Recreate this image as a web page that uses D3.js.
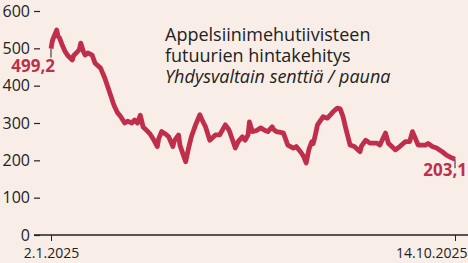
<!DOCTYPE html>
<html><head><meta charset="utf-8">
<script src="https://cdn.jsdelivr.net/npm/d3@7"></script>
<style>
html,body{margin:0;padding:0;background:#f8eee7;}
svg{display:block;}
text{font-family:"Open Sans",sans-serif;fill:#222;}
</style></head><body>
<svg id="c" width="468" height="263"></svg>
<script>
const dates = ["2025-01-02","2025-01-03","2025-01-06","2025-01-07","2025-01-08","2025-01-10","2025-01-12","2025-01-14","2025-01-17","2025-01-18",
"2025-01-20","2025-01-22","2025-01-23","2025-01-25","2025-01-26","2025-01-28","2025-01-31","2025-02-02","2025-02-06","2025-02-09",
"2025-02-13","2025-02-15","2025-02-16","2025-02-18","2025-02-20","2025-02-23","2025-02-25","2025-02-28","2025-03-02","2025-03-04",
"2025-03-06","2025-03-08","2025-03-10","2025-03-13","2025-03-15","2025-03-18","2025-03-19","2025-03-21","2025-03-24","2025-03-26",
"2025-03-29","2025-03-30","2025-04-02","2025-04-03","2025-04-07","2025-04-09","2025-04-11","2025-04-14","2025-04-17","2025-04-19",
"2025-04-21","2025-04-24","2025-04-28","2025-05-01","2025-05-05","2025-05-07","2025-05-08","2025-05-12","2025-05-14","2025-05-17",
"2025-05-19","2025-05-21","2025-05-22","2025-05-24","2025-05-27","2025-05-30","2025-06-02","2025-06-04","2025-06-07","2025-06-08",
"2025-06-10","2025-06-13","2025-06-15","2025-06-18","2025-06-22","2025-06-24","2025-06-27","2025-06-29","2025-07-01","2025-07-03",
"2025-07-05","2025-07-06","2025-07-07","2025-07-09","2025-07-13","2025-07-16","2025-07-20","2025-07-23","2025-07-25","2025-07-27",
"2025-07-29","2025-08-01","2025-08-04","2025-08-08","2025-08-09","2025-08-12","2025-08-15","2025-08-20","2025-08-22","2025-08-26",
"2025-08-28","2025-08-31","2025-09-02","2025-09-05","2025-09-09","2025-09-12","2025-09-14","2025-09-18","2025-09-23","2025-09-25",
"2025-09-28","2025-10-01","2025-10-05","2025-10-08","2025-10-12","2025-10-14"];
const prices = [499.2,521,549,532,528,508,491,480,469,481,
488,497,514,490,482,488,482,461,447,420,
375,352,343,327,318,300,305,300,308,300,
321,289,282,270,258,237,258,277,270,263,
237,252,268,240,196,232,263,295,322,305,
290,254,268,268,295,285,277,233,250,263,
254,268,303,277,280,287,280,277,290,283,
277,275,273,241,233,237,223,212,193,230,
250,245,260,295,317,313,330,340,338,317,
285,241,237,223,238,254,246,246,241,273,
246,235,228,237,250,250,277,241,241,245,
237,233,223,214,206,203.1];
const yTicks = [0,100,200,300,400,500,600];
const xTickDates = ["2025-01-02","2025-10-14"];
const xTickLabels = ["2.1.2025","14.10.2025"];
const endLabels = ["499,2","203,1"];
const titleLines = ["Appelsiinimehutiivisteen","futuurien hintakehitys"];
const subtitle = "Yhdysvaltain senttiä / pauna";

const parse = d3.timeParse("%Y-%m-%d");
const data = dates.map((d,i)=>({date:parse(d), v:prices[i]}));
const svg = d3.select("#c");
const red = "#bf2f4c";

const x = d3.scaleTime().domain([parse(dates[0]), parse(dates[dates.length-1])]).range([51,455]);
const y = d3.scaleLinear().domain([0,600]).range([235,11]);

// y axis
const ya = svg.append("g").attr("transform","translate(40,0)")
  .call(d3.axisLeft(y).tickValues(yTicks).tickSize(6).tickPadding(4).tickFormat(d3.format("d")));
ya.select(".domain").remove();
ya.selectAll(".tick line").attr("stroke","#222").attr("stroke-width",1.2);
ya.selectAll(".tick text").style("font-size","16px").style("font-family","'Open Sans',sans-serif").attr("fill","#222");

// x axis baseline
svg.append("line").attr("x1",34).attr("x2",468).attr("y1",y(0)).attr("y2",y(0)).attr("stroke","#222").attr("stroke-width",1.4);
const xa = svg.append("g").attr("transform",`translate(0,${y(0)})`)
  .call(d3.axisBottom(x).tickValues(xTickDates.map(parse)).tickSize(6).tickPadding(7).tickFormat((d,i)=>xTickLabels[i]));
xa.select(".domain").remove();
xa.selectAll(".tick line").attr("stroke","#222");
xa.selectAll(".tick text").style("font-size","14px").style("font-family","'Open Sans',sans-serif").attr("fill","#222")
  .attr("text-anchor",(d,i)=> i===1 ? "end" : "middle")
  .attr("dx",(d,i)=> i===1 ? 12 : 0);

// end markers
[0, data.length-1].forEach(i=>{
  svg.append("line").attr("x1",x(data[i].date)).attr("x2",x(data[i].date))
    .attr("y1",y(data[i].v)).attr("y2",y(data[i].v)+9).attr("stroke","#222").attr("stroke-width",1);
});

// line
svg.append("path").datum(data)
  .attr("fill","none").attr("stroke",red).attr("stroke-width",4.8).attr("stroke-linejoin","round")
  .attr("d", d3.line().x(d=>x(d.date)).y(d=>y(d.v)));

// value labels
svg.append("text").attr("x",55).attr("y",y(prices[0])+23).attr("text-anchor","end")
  .style("font-size","17px").style("font-weight","700").style("fill",red).text(endLabels[0]);
svg.append("text").attr("x",467).attr("y",y(prices[prices.length-1])+17).attr("text-anchor","end")
  .style("font-size","17px").style("font-weight","700").style("fill",red).text(endLabels[1]);

// title
const t = svg.append("text").attr("x",165).attr("y",41).style("font-size","18px");
titleLines.forEach((l,i)=> t.append("tspan").attr("x",165).attr("dy", i===0?0:21).text(l));
svg.append("text").attr("x",165).attr("y",83).style("font-size","18px").style("font-style","italic").text(subtitle);
</script>
</body></html>
